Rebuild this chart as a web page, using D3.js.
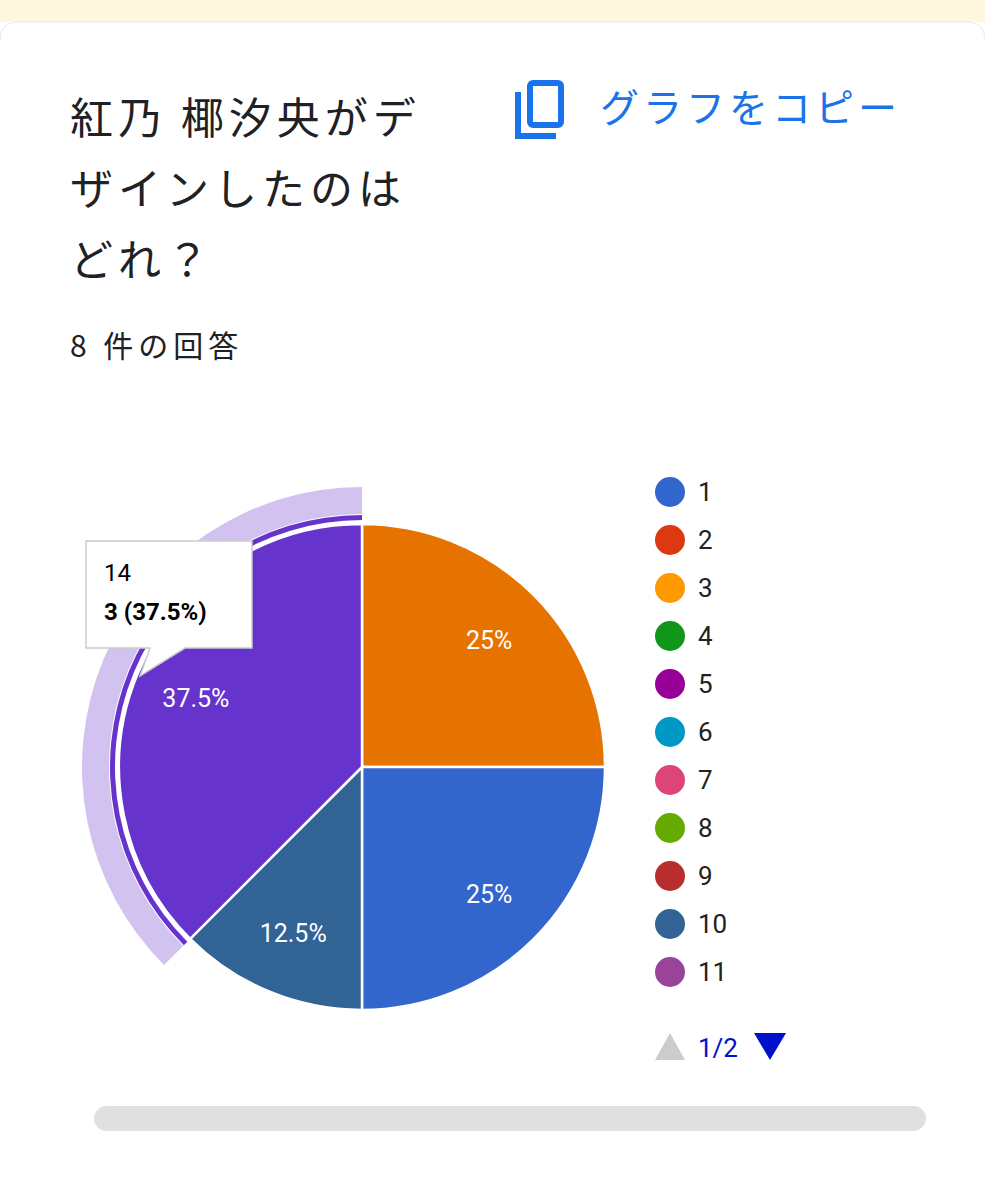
<!DOCTYPE html>
<html><head><meta charset="utf-8">
<script src="https://cdn.jsdelivr.net/npm/d3@7"></script>
<style>body{margin:0;background:#fff;font-family:Roboto,"Noto Sans CJK JP",sans-serif}</style>
</head><body><svg id="c" width="985" height="1200"></svg>
<script>
const slices=["15","1","10","14"];
const sliceValues=[2,2,1,3];
const sliceColors=["#e67300","#3366cc","#316395","#6633cc"];
const legendLabels=["1","2","3","4","5","6","7","8","9","10","11"];
const legendColors=["#3366cc","#dc3912","#ff9900","#109618","#990099","#0099c6","#dd4477","#66aa00","#b82e2e","#316395","#994499"];
const total=d3.sum(sliceValues);
const svg=d3.select("#c");
const jp='"Noto Sans CJK JP",Roboto,sans-serif';
svg.append("rect").attr("width",985).attr("height",1200).attr("fill","#fff");
svg.append("rect").attr("width",985).attr("height",22).attr("fill","#fef7e0");
svg.append("path").attr("d","M0,40 Q0,22 18,22 L967,22 Q985,22 985,40").attr("fill","none").attr("stroke","#e8e8e8");
["紅乃 椰汐央がデ","ザインしたのは","どれ？"].forEach((t,i)=>svg.append("text").attr("x",70).attr("y",134+i*71).attr("font-family",jp).attr("font-size",43).attr("letter-spacing",5).attr("fill","#202124").text(t));
svg.append("text").attr("x",70).attr("y",357).attr("font-family",jp).attr("font-size",30).attr("letter-spacing",5).attr("fill","#202124").text("8 件の回答");
const ic=svg.append("g").attr("fill","none").attr("stroke","#1a73e8").attr("stroke-width",6);
ic.append("path").attr("d","M518,92 L518,136 L556,136");
ic.append("rect").attr("x",530).attr("y",83).attr("width",31).attr("height",42).attr("rx",3);
svg.append("text").attr("x",600).attr("y",122).attr("font-family",jp).attr("font-size",39).attr("letter-spacing",4).attr("fill","#1a73e8").text("グラフをコピー");
const cx=362,cy=767,R=243;
const pie=d3.pie().sort(null).value(d=>d)(sliceValues);
const g=svg.append("g").attr("transform",`translate(${cx},${cy})`);
const p=pie[3];
g.append("path").attr("d",d3.arc().innerRadius(R+10).outerRadius(R+37)(p)).attr("fill","#d1c2ef");
g.append("path").attr("d",d3.arc().innerRadius(R+4).outerRadius(R+9)(p)).attr("fill","#6633cc");
const arc=d3.arc().innerRadius(0).outerRadius(R);
g.selectAll("path.s").data(pie).join("path").attr("class","s").attr("d",arc).attr("fill",(d,i)=>sliceColors[i]).attr("stroke","#fff").attr("stroke-width",2.5);
const la=d3.arc().innerRadius(R*0.74).outerRadius(R*0.74);
g.selectAll("text").data(pie).join("text").attr("transform",d=>`translate(${la.centroid(d)})`).attr("dy","0.35em").attr("text-anchor","middle").attr("font-size",25).attr("fill","#fff").text(d=>(d.value/total*100)+"%");
svg.append("path").attr("d","M86,541 L252,541 L252,648 L185,648 L140,676 L150,648 L86,648 Z").attr("fill","#fff").attr("stroke","#ccc").attr("stroke-width",1.5);
svg.append("text").attr("x",104).attr("y",581).attr("font-size",24).attr("fill","#000").text(slices[3]);
svg.append("text").attr("x",104).attr("y",620).attr("font-size",24).attr("font-weight","bold").attr("fill","#000").text(`${sliceValues[3]} (${sliceValues[3]/total*100}%)`);
const lg=svg.selectAll("g.l").data(legendLabels).join("g").attr("transform",(d,i)=>`translate(670,${492+i*48})`);
lg.append("circle").attr("r",15).attr("fill",(d,i)=>legendColors[i]);
lg.append("text").attr("x",28).attr("dy","0.35em").attr("font-size",26).attr("fill","#222").text(d=>d);
svg.append("path").attr("d","M655,1060 L685,1060 L670,1033 Z").attr("fill","#ccc");
svg.append("text").attr("x",698).attr("y",1057).attr("font-size",26).attr("fill","#0011cc").text("1/2");
svg.append("path").attr("d","M754,1033 L786,1033 L770,1060 Z").attr("fill","#0011cc");
svg.append("rect").attr("x",94).attr("y",1106).attr("width",832).attr("height",25).attr("rx",12.5).attr("fill","#e0e0e0");
</script></body></html>
